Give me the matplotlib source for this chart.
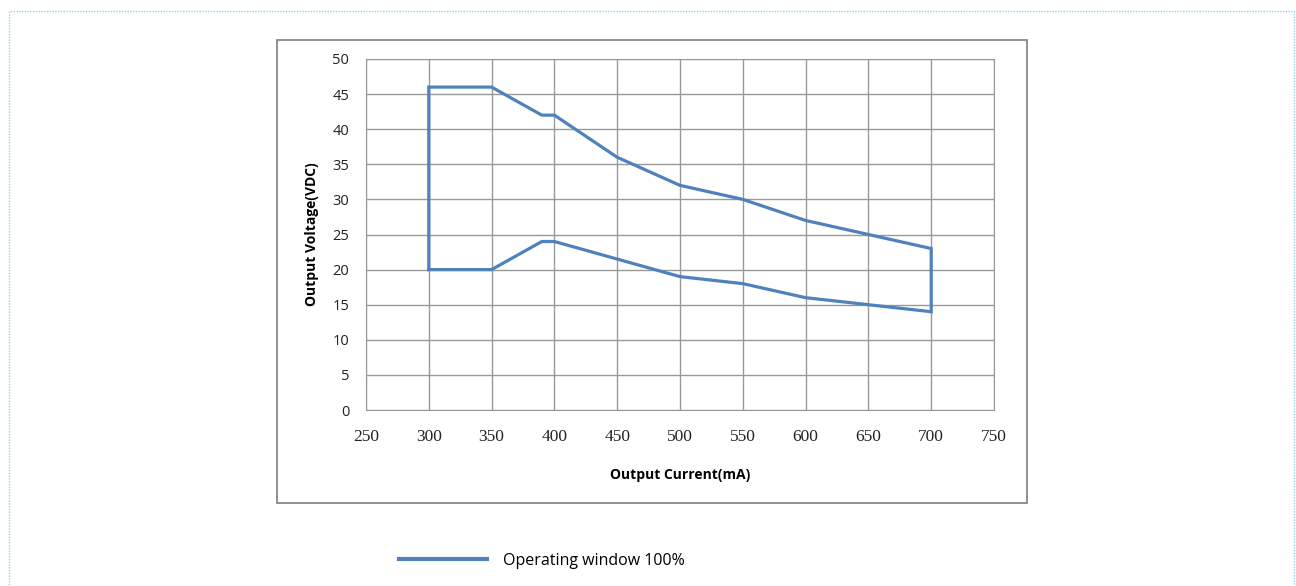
import matplotlib.pyplot as plt
from matplotlib.patches import Rectangle
import numpy as np

# operating window outline (mA, VDC)
current = [300, 300, 350, 390, 400, 450, 500, 550, 600, 650, 700,
           700, 650, 600, 550, 500, 450, 400, 390, 350, 300]
voltage = [20, 46, 46, 42, 42, 36, 32, 30, 27, 25, 23,
           14, 15, 16, 18, 19, 21.5, 24, 24, 20, 20]
xticks = np.arange(250, 751, 50)
yticks = np.arange(0, 51, 5)

fig = plt.figure(figsize=(12.96, 5.86), dpi=100)
W, H = 1296, 586

# dashed outer frame (bottom edge runs off the image)
fig.add_artist(Rectangle((9 / W, -0.05), 1285 / W, 1.05 - 11 / H, transform=fig.transFigure,
                         fill=False, ec='#8fd3ec', lw=1, ls=(0, (1, 1))))
# chart box
fig.add_artist(Rectangle((277 / W, 1 - 503 / H), 750 / W, 463 / H, transform=fig.transFigure,
                         fill=False, ec='#888888', lw=1.3))

ax = fig.add_axes([366 / W, 1 - 410 / H, 628 / W, 351 / H])
ax.plot(current, voltage, color='#4F81BD', lw=2.3, label='Operating window 100%',
        solid_joinstyle='miter')
ax.set_xlim(250, 750)
ax.set_ylim(0, 50)
ax.set_xticks(xticks)
ax.set_yticks(yticks)
ax.grid(True, color='#999999', lw=1)
ax.set_axisbelow(True)
for s in ax.spines.values():
    s.set_color('#999999')
ax.tick_params(length=0)
ax.tick_params(axis='x', pad=14)
ax.tick_params(axis='y', pad=12)
for t in ax.get_xticklabels():
    t.set_family('Liberation Serif')
    t.set_fontsize(12.5)
    t.set_color('#222222')
for t in ax.get_yticklabels():
    t.set_family('Open Sans')
    t.set_fontsize(10.5)
    t.set_color('#222222')

ax.set_xlabel('Output Current(mA)', fontsize=10, fontweight='bold', family='Open Sans', labelpad=16)
ax.set_ylabel('Output Voltage(VDC)', fontsize=10, fontweight='bold', family='Open Sans', labelpad=10)

leg = fig.legend(loc='center left', bbox_to_anchor=(391 / W, 1 - 561 / H), frameon=False,
                 handlelength=5.5, handletextpad=1.0, borderpad=0,
                 prop={'family': 'Open Sans', 'size': 11.5})
for h in leg.get_lines():
    h.set_linewidth(3)

fig.savefig('out.png', dpi=100)
